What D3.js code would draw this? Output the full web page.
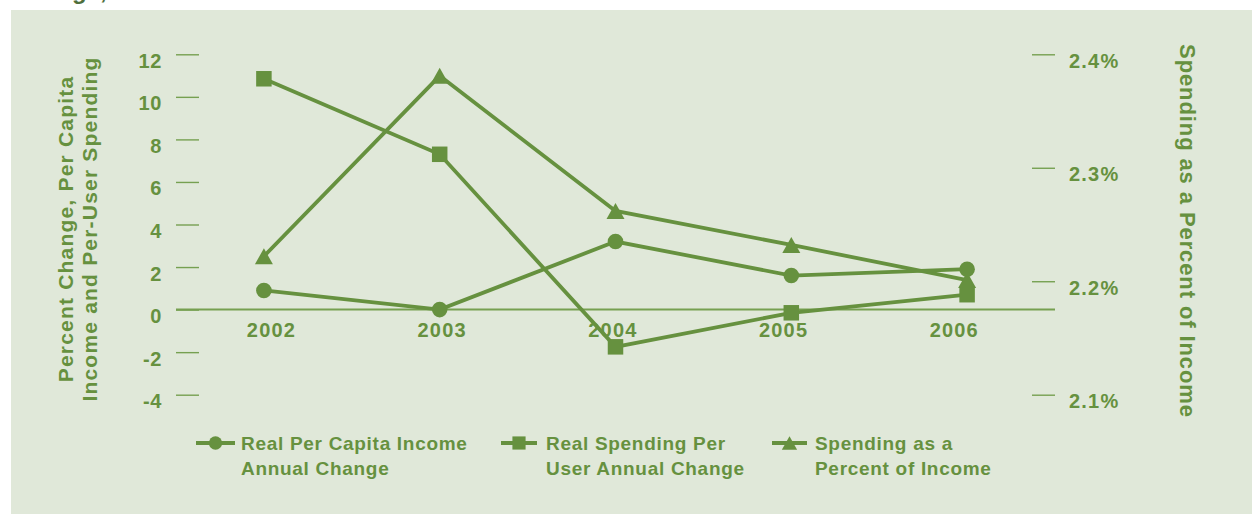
<!DOCTYPE html>
<html>
<head>
<meta charset="utf-8">
<script src="https://cdn.jsdelivr.net/npm/d3@7/dist/d3.min.js"></script>
<style>
  html, body { margin: 0; padding: 0; background: #ffffff; }
  svg { display: block; }
  text { font-family: "Liberation Sans", Arial, Helvetica, sans-serif; font-weight: bold; }
</style>
</head>
<body>
<div id="chart"></div>
<script>
// Years on the category axis
const years = ["2002", "2003", "2004", "2005", "2006"];

// Left-axis series (percent change)
const incomeChange = [0.9, 0.0, 3.2, 1.6, 1.9];         // Real per capita income, annual change
const spendingChange = [10.85, 7.3, -1.75, -0.15, 0.7]; // Real spending per user, annual change

// Right-axis series (spending as a percent of income)
const spendingShare = [2.222, 2.381, 2.262, 2.232, 2.201];

// Tick values / labels
const leftTicks = [-4, -2, 0, 2, 4, 6, 8, 10, 12];
const rightTicks = [2.1, 2.2, 2.3, 2.4];

const seriesNames = [
  ["Real Per Capita Income", "Annual Change"],
  ["Real Spending Per", "User Annual Change"],
  ["Spending as a", "Percent of Income"]
];
const leftTitle = ["Percent Change, Per Capita", "Income and Per-User Spending"];
const rightTitle = "Spending as a Percent of Income";
const headerText = "Change, 2002\u20132006";

const W = 1252, H = 515;
const green = "#66913f";
const tickGreen = "#76a051";
const bg = "#e0e8d9";

const svg = d3.select("#chart").append("svg")
  .attr("width", W).attr("height", H);

// Header line running off the top edge
svg.append("text")
  .attr("x", 12).attr("y", -1)
  .attr("font-size", 24)
  .attr("fill", "#4f6f3c")
  .text(headerText);

// Panel
svg.append("rect")
  .attr("x", 11).attr("y", 10)
  .attr("width", W - 11).attr("height", 504)
  .attr("fill", bg);

// Scales
const plotLeft = 176, plotRight = 1055;
const x = d3.scalePoint().domain(years).range([plotLeft, plotRight]).padding(0.5);
const xLabel = d3.scalePoint().domain(years).range([271.5, 954.3]);
const yL = d3.scaleLinear().domain([-4, 12]).range([394.7, 54.3]);
const yR = d3.scaleLinear().domain([2.1, 2.4]).range([394.7, 54.3]);

// Left axis (plain hyphen for negatives)
const leftAxis = d3.axisLeft(yL).tickValues(leftTicks).tickSize(23).tickPadding(14)
  .tickFormat(d => String(d));
const gL = svg.append("g").attr("transform", `translate(199,0)`).call(leftAxis);
gL.select(".domain").remove();
gL.selectAll(".tick line").attr("stroke", tickGreen).attr("stroke-width", 1.4);
gL.selectAll(".tick text")
  .attr("fill", green).attr("font-size", 20).attr("letter-spacing", 0.6)
  .attr("font-family", null).attr("dy", 13);

// Right axis
const rightAxis = d3.axisRight(yR).tickValues(rightTicks).tickSize(23).tickPadding(14)
  .tickFormat(d => d3.format(".1f")(d) + "%");
const gR = svg.append("g").attr("transform", `translate(1032,0)`).call(rightAxis);
gR.select(".domain").remove();
gR.selectAll(".tick line").attr("stroke", tickGreen).attr("stroke-width", 1.4);
gR.selectAll(".tick text")
  .attr("fill", green).attr("font-size", 20).attr("letter-spacing", 1.2)
  .attr("font-family", null).attr("dy", 13);

// Zero baseline
svg.append("line")
  .attr("x1", plotLeft).attr("x2", plotRight)
  .attr("y1", yL(0)).attr("y2", yL(0))
  .attr("stroke", tickGreen).attr("stroke-width", 2);

// Category labels
svg.append("g").selectAll("text").data(years).join("text")
  .attr("x", d => xLabel(d)).attr("y", 336.7)
  .attr("text-anchor", "middle")
  .attr("font-size", 20).attr("letter-spacing", 1.2)
  .attr("fill", green)
  .text(d => d);

// Axis titles
const lt = svg.append("text")
  .attr("transform", "translate(0,229) rotate(-90)")
  .attr("text-anchor", "middle")
  .attr("font-size", 21).attr("letter-spacing", 1.2)
  .attr("fill", green);
lt.selectAll("tspan").data(leftTitle).join("tspan")
  .attr("x", 0).attr("y", (d, i) => 73 + i * 23.5)
  .text(d => d);

svg.append("text")
  .attr("transform", "translate(1180,231) rotate(90)")
  .attr("text-anchor", "middle")
  .attr("font-size", 22).attr("letter-spacing", 0.9)
  .attr("fill", green)
  .text(rightTitle);

// Marker shapes
const sqSize = 15.5;
function drawMarker(g, shape, cx, cy, scale = 1) {
  if (shape === "circle") {
    g.append("circle").attr("cx", cx).attr("cy", cy).attr("r", 7.8 * scale).attr("fill", green);
  } else if (shape === "square") {
    const s = sqSize * scale;
    g.append("rect").attr("x", cx - s / 2).attr("y", cy - s / 2)
      .attr("width", s).attr("height", s).attr("fill", green);
  } else {
    const w = 18 * scale, h = 16 * scale;
    g.append("path")
      .attr("d", `M${cx},${cy - h / 2}L${cx + w / 2},${cy + h / 2}L${cx - w / 2},${cy + h / 2}Z`)
      .attr("fill", green);
  }
}

const series = [
  { values: spendingChange, y: yL, shape: "square" },
  { values: spendingShare, y: yR, shape: "triangle" },
  { values: incomeChange, y: yL, shape: "circle" }
];

series.forEach(s => {
  const pts = years.map((yr, i) => [x(yr), s.y(s.values[i])]);
  const g = svg.append("g");
  g.append("path")
    .attr("d", d3.line()(pts))
    .attr("fill", "none").attr("stroke", green)
    .attr("stroke-width", 3.8).attr("stroke-linejoin", "miter");
  pts.forEach(p => drawMarker(g, s.shape, p[0], p[1]));
});

// Legend
const legendItems = [
  { shape: "circle", x0: 196, x1: 235, tx: 241, lines: seriesNames[0] },
  { shape: "square", x0: 501, x1: 537, tx: 546, lines: seriesNames[1] },
  { shape: "triangle", x0: 772, x1: 807, tx: 815, lines: seriesNames[2] }
];
const lg = svg.append("g");
legendItems.forEach(it => {
  lg.append("line")
    .attr("x1", it.x0).attr("x2", it.x1).attr("y1", 443).attr("y2", 443)
    .attr("stroke", green).attr("stroke-width", 3.8);
  drawMarker(lg, it.shape, (it.x0 + it.x1) / 2, 443, 0.85);
  const t = lg.append("text")
    .attr("font-size", 19).attr("letter-spacing", 0.7).attr("fill", green);
  t.selectAll("tspan").data(it.lines).join("tspan")
    .attr("x", it.tx).attr("y", (d, i) => 450 + i * 24.5)
    .text(d => d);
});
</script>
</body>
</html>
